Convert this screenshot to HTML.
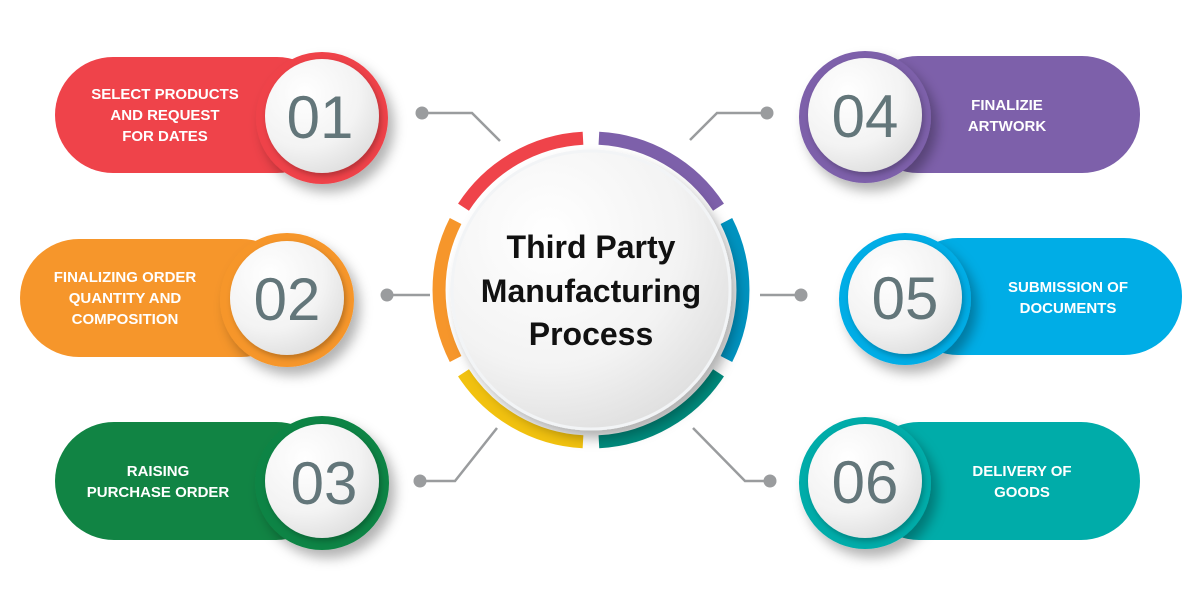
<!DOCTYPE html>
<html><head><meta charset="utf-8"><style>
html,body{margin:0;padding:0;background:#fff;}
svg{display:block;}
.t{font-family:"Liberation Sans",sans-serif;fill:#fff;font-size:15px;font-weight:bold;text-anchor:middle;}
.n{font-family:"Liberation Sans",sans-serif;fill:#63767a;font-size:60px;text-anchor:middle;}
.c{font-family:"Liberation Sans",sans-serif;fill:#111;font-size:32px;font-weight:bold;text-anchor:middle;}
</style></head><body>
<svg width="1200" height="594" viewBox="0 0 1200 594" xmlns="http://www.w3.org/2000/svg">
<defs>
<radialGradient id="wg" cx="35%" cy="30%" r="80%"><stop offset="0" stop-color="#ffffff"/><stop offset="0.6" stop-color="#f3f3f3"/><stop offset="1" stop-color="#dcdcdc"/></radialGradient>
<filter id="sh" x="-30%" y="-30%" width="170%" height="170%"><feDropShadow dx="6" dy="8" stdDeviation="6" flood-color="#000" flood-opacity="0.3"/></filter>
<filter id="sh2" x="-30%" y="-30%" width="170%" height="170%"><feDropShadow dx="2" dy="3" stdDeviation="3" flood-color="#000" flood-opacity="0.25"/></filter>
</defs>

<g stroke="#9a9c9e" stroke-width="2.5" fill="none">
<polyline points="422,113 472,113 500,141"/>
<polyline points="387,295 430,295"/>
<polyline points="420,481 455,481 497,428"/>
<polyline points="767,113 717,113 690,140"/>
<polyline points="760,295 801,295"/>
<polyline points="770,481 745,481 693,428"/>
</g>
<g fill="#9a9c9e">
<circle cx="422" cy="113" r="6.5"/><circle cx="387" cy="295" r="6.5"/><circle cx="420" cy="481" r="6.5"/>
<circle cx="767" cy="113" r="6.5"/><circle cx="801" cy="295" r="6.5"/><circle cx="770" cy="481" r="6.5"/>
</g>

<rect x="55" y="57" width="280" height="116" rx="58" fill="#ef434a"/>
<circle cx="322" cy="118" r="66" fill="#ef434a" filter="url(#sh)"/>
<circle cx="322" cy="116" r="57" fill="url(#wg)" filter="url(#sh2)"/>
<text class="t" x="165" y="99">SELECT PRODUCTS</text>
<text class="t" x="165" y="120">AND REQUEST</text>
<text class="t" x="165" y="141">FOR DATES</text>
<text class="n" x="320" y="138">01</text>

<rect x="20" y="239" width="280" height="118" rx="59" fill="#f6962b"/>
<circle cx="287" cy="300" r="67" fill="#f6962b" filter="url(#sh)"/>
<circle cx="287" cy="298" r="57" fill="url(#wg)" filter="url(#sh2)"/>
<text class="t" x="125" y="282">FINALIZING ORDER</text>
<text class="t" x="125" y="303">QUANTITY AND</text>
<text class="t" x="125" y="324">COMPOSITION</text>
<text class="n" x="287" y="320">02</text>

<rect x="55" y="422" width="280" height="118" rx="59" fill="#118444"/>
<circle cx="322" cy="483" r="67" fill="#118444" filter="url(#sh)"/>
<circle cx="322" cy="481" r="57" fill="url(#wg)" filter="url(#sh2)"/>
<text class="t" x="158" y="476">RAISING</text>
<text class="t" x="158" y="497">PURCHASE ORDER</text>
<text class="n" x="324" y="504">03</text>

<rect x="860" y="56" width="280" height="117" rx="58" fill="#7d60aa"/>
<circle cx="865" cy="117" r="66" fill="#7d60aa" filter="url(#sh)"/>
<circle cx="865" cy="115" r="57" fill="url(#wg)" filter="url(#sh2)"/>
<text class="t" x="1007" y="110">FINALIZIE</text>
<text class="t" x="1007" y="131">ARTWORK</text>
<text class="n" x="865" y="137">04</text>

<rect x="900" y="238" width="282" height="117" rx="58" fill="#00ade6"/>
<circle cx="905" cy="299" r="66" fill="#00ade6" filter="url(#sh)"/>
<circle cx="905" cy="297" r="57" fill="url(#wg)" filter="url(#sh2)"/>
<text class="t" x="1068" y="292">SUBMISSION OF</text>
<text class="t" x="1068" y="313">DOCUMENTS</text>
<text class="n" x="905" y="319">05</text>

<rect x="860" y="422" width="280" height="118" rx="59" fill="#00aca9"/>
<circle cx="865" cy="483" r="66" fill="#00aca9" filter="url(#sh)"/>
<circle cx="865" cy="481" r="57" fill="url(#wg)" filter="url(#sh2)"/>
<text class="t" x="1022" y="476">DELIVERY OF</text>
<text class="t" x="1022" y="497">GOODS</text>
<text class="n" x="865" y="503">06</text>

<g fill="none" stroke-width="13">
<path d="M598.9,138.2 A152,152 0 0 1 718.5,207.2" stroke="#7d60aa"/>
<path d="M726.4,221 A152,152 0 0 1 726.4,359" stroke="#0093c0"/>
<path d="M718.5,372.8 A152,152 0 0 1 598.9,441.8" stroke="#008a7c"/>
<path d="M583,441.8 A152,152 0 0 1 463.5,372.8" stroke="#f2c20f"/>
<path d="M455.6,359 A152,152 0 0 1 455.6,221" stroke="#f6962b"/>
<path d="M463.5,207.2 A152,152 0 0 1 583,138.2" stroke="#ef434a"/>
</g>
<circle cx="591" cy="290" r="139" fill="url(#wg)" stroke="#f2f4f6" stroke-width="3" filter="url(#sh)"/>
<text class="c" x="591" y="258">Third Party</text>
<text class="c" x="591" y="302">Manufacturing</text>
<text class="c" x="591" y="345">Process</text>
</svg>
</body></html>
